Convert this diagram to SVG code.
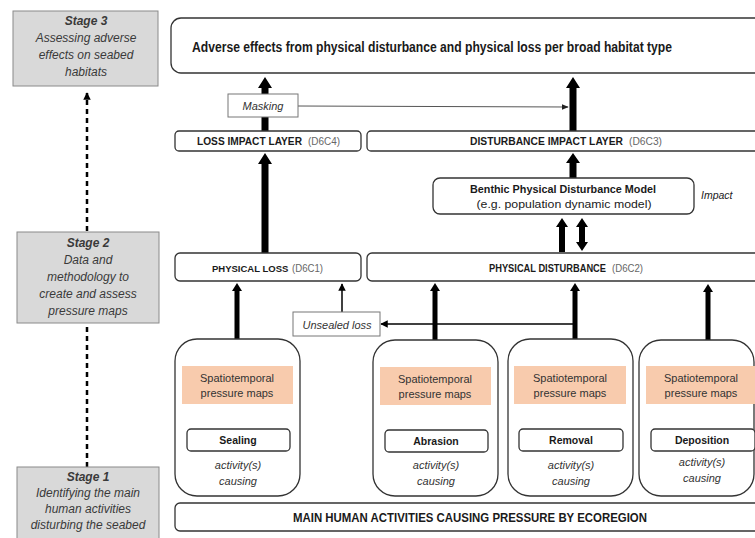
<svg xmlns="http://www.w3.org/2000/svg" width="755" height="538" viewBox="0 0 755 538">
<style>
text{font-family:"Liberation Sans",Arial,sans-serif;fill:#1a1a1a}
.stage{fill:#d9d9d9;stroke:#8a8a8a;stroke-width:1}
.st{font-size:12px;font-style:italic;fill:#3a3a3a;text-anchor:middle}
.stb{font-weight:bold}
.box{fill:#fff;stroke:#333;stroke-width:1.3}
.hd{font-size:10px;font-weight:bold}
.code{font-size:10px;fill:#666}
.orange{fill:#f8cbad}
.sp{font-size:11px;text-anchor:middle;fill:#333}
.lab{font-size:10.5px;font-weight:bold;text-anchor:middle}
.it{font-size:11px;font-style:italic;text-anchor:middle;fill:#333}
.note{fill:#fff;stroke:#777;stroke-width:1}
.arr{fill:#000}
.thin{stroke:#000;stroke-width:1.5;fill:none}
.dash{stroke:#000;stroke-width:2.5;stroke-dasharray:5,4;fill:none}
</style>
<defs>
<marker id="ah" viewBox="0 0 10 10" refX="9" refY="5" markerWidth="5" markerHeight="5" markerUnits="strokeWidth" orient="auto"><path d="M0,0 L10,5 L0,10 z" fill="#000"/></marker>
<marker id="ahg" viewBox="0 0 10 10" refX="9" refY="5" markerWidth="7" markerHeight="7" markerUnits="strokeWidth" orient="auto"><path d="M0,1 L10,5 L0,9 z" fill="#222"/></marker>
<marker id="ahd" viewBox="0 0 10 10" refX="9" refY="5" markerWidth="3" markerHeight="3" markerUnits="strokeWidth" orient="auto"><path d="M0,0 L10,5 L0,10 z" fill="#000"/></marker>
</defs>

<g id="connectors">
  <line class="dash" x1="87" y1="231" x2="87" y2="93" marker-end="url(#ahd)"/>
  <line class="dash" x1="87" y1="467" x2="87" y2="325"/>
  <polygon class="arr" points="261.5,131 261.5,88 258,88 265,77 272,88 268.5,88 268.5,131"/>
  <polygon class="arr" points="261.5,253 261.5,164 258,164 265,153 272,164 268.5,164 268.5,253"/>
  <polygon class="arr" points="569.5,131 569.5,88 566,88 573,77 580,88 576.5,88 576.5,131"/>
  <polygon class="arr" points="569.5,178 569.5,163 566,163 573,153 580,163 576.5,163 576.5,178"/>
  <polygon class="arr" points="559,252 559,227 556,227 562,218 568,227 565,227 565,252"/>
  <polygon class="arr" points="582,218 588,227 585,227 585,242 588,242 582,251 576,242 579,242 579,227 576,227"/>
  <polygon class="arr" points="234.5,339 234.5,291 232,291 237,283 242,291 239.5,291 239.5,339"/>
  <polygon class="arr" points="432.5,340 432.5,291 430,291 435,283 440,291 437.5,291 437.5,340"/>
  <polygon class="arr" points="572.5,339 572.5,291 570,291 575,283 580,291 577.5,291 577.5,339"/>
  <polygon class="arr" points="705.5,340 705.5,292 703,292 708,284 713,292 710.5,292 710.5,340"/>
  <line class="thin" x1="342" y1="312" x2="342" y2="284" marker-end="url(#ah)"/>
  <line class="thin" x1="575" y1="324" x2="381" y2="324" marker-end="url(#ah)"/>
  <line x1="298" y1="106" x2="568" y2="107" stroke="#555" stroke-width="1" marker-end="url(#ahg)"/>
</g>

<g id="stage3">
  <rect class="stage" x="13" y="11" width="145" height="75"/>
  <text class="st" x="86" y="25"><tspan class="stb">Stage 3</tspan></text>
  <text class="st" x="86" y="42">Assessing adverse</text>
  <text class="st" x="86" y="59">effects on seabed</text>
  <text class="st" x="86" y="76">habitats</text>
</g>
<g id="stage2">
  <rect class="stage" x="17" y="232" width="142" height="91"/>
  <text class="st" x="88" y="247"><tspan class="stb">Stage 2</tspan></text>
  <text class="st" x="88" y="264">Data and</text>
  <text class="st" x="88" y="281">methodology to</text>
  <text class="st" x="88" y="298">create and assess</text>
  <text class="st" x="88" y="315">pressure maps</text>
</g>
<g id="stage1">
  <rect class="stage" x="17" y="467" width="142" height="80"/>
  <text class="st" x="88" y="481"><tspan class="stb">Stage 1</tspan></text>
  <text class="st" x="88" y="497">Identifying the main</text>
  <text class="st" x="88" y="513">human activities</text>
  <text class="st" x="88" y="529">disturbing the seabed</text>
</g>

<g id="adverse-effects">
  <rect class="box" x="171" y="18" width="600" height="55" rx="10"/>
  <text x="432" y="52" font-size="14" font-weight="bold" text-anchor="middle" textLength="480" lengthAdjust="spacingAndGlyphs">Adverse effects from physical disturbance and physical loss per broad habitat type</text>
</g>
<g id="masking">
  <rect class="note" x="228" y="94" width="70" height="23"/>
  <text class="it" x="263" y="110">Masking</text>
</g>
<g id="loss-impact-layer">
  <rect class="box" x="175" y="131" width="186" height="20" rx="4"/>
  <text class="hd" x="197" y="145" textLength="105" lengthAdjust="spacingAndGlyphs">LOSS IMPACT LAYER</text>
  <text class="code" x="308" y="145" textLength="32" lengthAdjust="spacingAndGlyphs">(D6C4)</text>
</g>
<g id="disturbance-impact-layer">
  <rect class="box" x="367" y="131" width="400" height="20" rx="4"/>
  <text class="hd" x="470" y="145" textLength="153" lengthAdjust="spacingAndGlyphs">DISTURBANCE IMPACT LAYER</text>
  <text class="code" x="629" y="145" textLength="33" lengthAdjust="spacingAndGlyphs">(D6C3)</text>
</g>
<g id="benthic-model">
  <rect class="box" x="433" y="178" width="261" height="36" rx="7"/>
  <text x="563" y="193" font-size="10.5" font-weight="bold" text-anchor="middle" textLength="186" lengthAdjust="spacingAndGlyphs">Benthic Physical Disturbance Model</text>
  <text x="564" y="208" font-size="10.5" text-anchor="middle" fill="#333" textLength="175" lengthAdjust="spacingAndGlyphs">(e.g. population dynamic model)</text>
  <text x="701" y="199" font-size="10.5" font-style="italic" fill="#333">Impact</text>
</g>
<g id="physical-loss">
  <rect class="box" x="175" y="253" width="186" height="28" rx="5"/>
  <text class="hd" x="212" y="272" style="font-size:9.5px">PHYSICAL LOSS</text>
  <text class="code" x="292" y="272" textLength="31" lengthAdjust="spacingAndGlyphs">(D6C1)</text>
</g>
<g id="physical-disturbance">
  <rect class="box" x="367" y="253" width="400" height="28" rx="5"/>
  <text class="hd" x="489" y="272" textLength="117" lengthAdjust="spacingAndGlyphs">PHYSICAL DISTURBANCE</text>
  <text class="code" x="612" y="272" textLength="31" lengthAdjust="spacingAndGlyphs">(D6C2)</text>
</g>
<g id="unsealed-loss">
  <rect class="note" x="293" y="312" width="87" height="24"/>
  <text class="it" x="337" y="329">Unsealed loss</text>
</g>

<g id="sealing">
  <rect class="box" x="175" y="339" width="125" height="157" rx="22"/>
  <rect class="orange" x="182" y="366" width="111" height="38"/>
  <text class="sp" x="237" y="382">Spatiotemporal</text>
  <text class="sp" x="237" y="397">pressure maps</text>
  <rect class="box" x="187" y="429" width="103" height="22" rx="4"/>
  <text class="lab" x="238" y="444">Sealing</text>
  <text class="it" x="238" y="469">activity(s)</text>
  <text class="it" x="238" y="485">causing</text>
</g>
<g id="abrasion">
  <rect class="box" x="373" y="340" width="125" height="156" rx="22"/>
  <rect class="orange" x="380" y="367" width="111" height="38"/>
  <text class="sp" x="435" y="383">Spatiotemporal</text>
  <text class="sp" x="435" y="398">pressure maps</text>
  <rect class="box" x="385" y="430" width="103" height="22" rx="4"/>
  <text class="lab" x="436" y="445">Abrasion</text>
  <text class="it" x="436" y="469">activity(s)</text>
  <text class="it" x="436" y="485">causing</text>
</g>
<g id="removal">
  <rect class="box" x="508" y="339" width="125" height="157" rx="22"/>
  <rect class="orange" x="514" y="366" width="112" height="38"/>
  <text class="sp" x="570" y="382">Spatiotemporal</text>
  <text class="sp" x="570" y="397">pressure maps</text>
  <rect class="box" x="519" y="429" width="104" height="22" rx="4"/>
  <text class="lab" x="571" y="444">Removal</text>
  <text class="it" x="571" y="469">activity(s)</text>
  <text class="it" x="571" y="485">causing</text>
</g>
<g id="deposition">
  <rect class="box" x="639" y="340" width="115" height="156" rx="22"/>
  <rect class="orange" x="646" y="366" width="110" height="38"/>
  <text class="sp" x="701" y="382">Spatiotemporal</text>
  <text class="sp" x="701" y="397">pressure maps</text>
  <rect class="box" x="651" y="429" width="104" height="22" rx="4"/>
  <text class="lab" x="702" y="444">Deposition</text>
  <text class="it" x="702" y="466">activity(s)</text>
  <text class="it" x="702" y="482">causing</text>
</g>
<g id="main-activities">
  <rect class="box" x="175" y="503" width="590" height="28" rx="5"/>
  <text x="470" y="522" font-size="12" font-weight="bold" text-anchor="middle" textLength="354" lengthAdjust="spacingAndGlyphs">MAIN HUMAN ACTIVITIES CAUSING PRESSURE BY ECOREGION</text>
</g>
</svg>
